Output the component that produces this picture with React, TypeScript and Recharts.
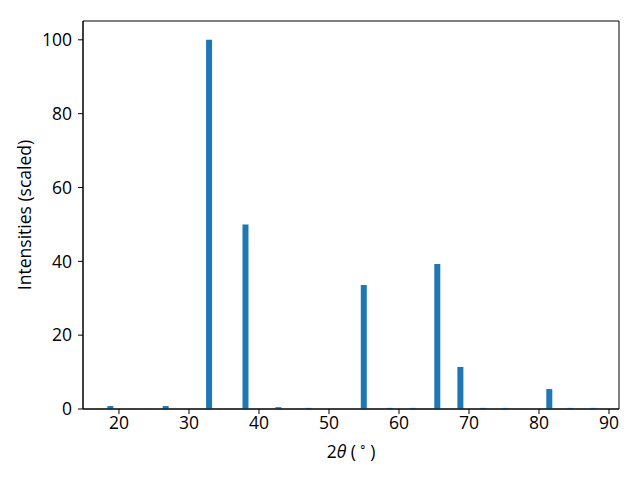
import { ComposedChart, Bar, XAxis, YAxis, ReferenceArea } from "recharts";

const twoTheta = [18.7, 26.6, 32.8, 38.0, 42.7, 47.0, 54.9, 58.6, 62.0, 65.4, 68.7, 72.0, 75.1, 81.4, 84.4, 87.6];
const intensity = [0.8, 0.8, 100, 50, 0.5, 0.3, 33.6, 0.3, 0.3, 39.3, 11.4, 0.3, 0.3, 5.4, 0.3, 0.3];
const xTicks = [20, 30, 40, 50, 60, 70, 80, 90];
const yTicks = [0, 20, 40, 60, 80, 100];

const X_MIN = 14.86;
const X_MAX = 91.43;
const Y_MAX = 105.1;

const data = twoTheta.map((x, i) => ({ x, y: intensity[i] }));

const FONT = "'Open Sans', 'Noto Sans', sans-serif";
const FS = 17.5;

const XLabel = (props: any) => {
  const vb = props.viewBox;
  const cx = vb.x + vb.width / 2;
  return (
    <text x={cx} y={458} textAnchor="middle" fontFamily={FONT} fontSize={FS} fill="#000">
      2<tspan fontStyle="italic">θ</tspan>{" ("}<tspan fontSize={12} dy={-7}>{" ∘ "}</tspan>
      <tspan dy={7}>)</tspan>
    </text>
  );
};

const YLabel = (props: any) => {
  const vb = props.viewBox;
  const cy = vb.y + vb.height / 2;
  return (
    <text
      x={31}
      y={cy}
      transform={`rotate(-90, 31, ${cy})`}
      textAnchor="middle"
      fontFamily={FONT}
      fontSize={FS}
      fill="#000"
    >
      Intensities (scaled)
    </text>
  );
};

export default function App() {
  return (
    <div style={{ position: "absolute", left: 0, top: 0, background: "#fff" }}>
      <ComposedChart
        width={640}
        height={480}
        data={data}
        margin={{ top: 21, right: 21, left: 0, bottom: 0 }}
      >
        <XAxis
          dataKey="x"
          type="number"
          domain={[X_MIN, X_MAX]}
          ticks={xTicks}
          allowDataOverflow
          height={71}
          tickSize={5}
          tickMargin={3}
          stroke="#000"
          tick={{ fill: "#000", fontSize: FS, fontFamily: FONT }}
          label={{ content: XLabel }}
        />
        <YAxis
          type="number"
          domain={[0, Y_MAX]}
          ticks={yTicks}
          allowDataOverflow
          width={83}
          tickSize={5}
          tickMargin={6}
          stroke="#000"
          tick={{ fill: "#000", fontSize: FS, fontFamily: FONT }}
          label={{ content: YLabel }}
        />
        <ReferenceArea
          x1={X_MIN}
          x2={X_MAX}
          y1={0}
          y2={Y_MAX}
          fill="none"
          stroke="#000"
          strokeWidth={1}
          fillOpacity={0}
        />
        <Bar dataKey="y" fill="#1f77b4" barSize={6} isAnimationActive={false} />
      </ComposedChart>
    </div>
  );
}
